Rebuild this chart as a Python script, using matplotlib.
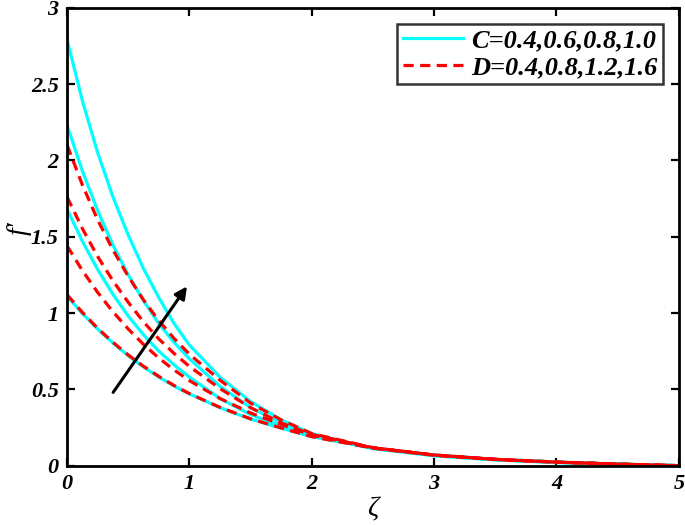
import numpy as np
import matplotlib.pyplot as plt
from matplotlib.lines import Line2D

# zeta grid
zeta = [0, 0.125, 0.25, 0.375, 0.5, 0.625, 0.75, 0.875, 1.0, 1.25, 1.5, 1.75, 2.0,
        2.5, 3.0, 3.5, 4.0, 4.5, 5.0]

# C = 0.4, 0.6, 0.8, 1.0 (solid cyan)
c_04 = [1.11, 0.997, 0.895, 0.803, 0.72, 0.646, 0.58, 0.522, 0.47, 0.38, 0.305, 0.246, 0.19,
        0.115, 0.07, 0.042, 0.024, 0.011, 0.0]
c_06 = [1.68, 1.47, 1.285, 1.122, 0.98, 0.857, 0.75, 0.66, 0.58, 0.44, 0.335, 0.26, 0.195,
        0.115, 0.068, 0.04, 0.023, 0.01, 0.0]
c_08 = [2.23, 1.93, 1.67, 1.445, 1.25, 1.08, 0.93, 0.807, 0.70, 0.52, 0.38, 0.28, 0.20,
        0.113, 0.066, 0.039, 0.022, 0.01, 0.0]
c_10 = [2.79, 2.39, 2.05, 1.76, 1.51, 1.29, 1.10, 0.93, 0.79, 0.58, 0.42, 0.30, 0.21,
        0.112, 0.065, 0.038, 0.02, 0.009, 0.0]

# D = 0.4, 0.8, 1.2, 1.6 (dashed red)
d_04 = [1.12, 1.004, 0.90, 0.808, 0.725, 0.651, 0.585, 0.525, 0.472, 0.382, 0.307, 0.247, 0.19,
        0.115, 0.07, 0.042, 0.024, 0.011, 0.0]
d_08 = [1.44, 1.278, 1.135, 1.008, 0.895, 0.794, 0.705, 0.627, 0.557, 0.44, 0.345, 0.27, 0.20,
        0.116, 0.069, 0.041, 0.023, 0.01, 0.0]
d_12 = [1.76, 1.553, 1.37, 1.211, 1.07, 0.942, 0.83, 0.735, 0.65, 0.505, 0.38, 0.28, 0.205,
        0.117, 0.069, 0.041, 0.023, 0.01, 0.0]
d_16 = [2.10, 1.839, 1.61, 1.413, 1.24, 1.085, 0.95, 0.833, 0.73, 0.56, 0.41, 0.30, 0.21,
        0.118, 0.07, 0.041, 0.023, 0.01, 0.0]

c_curves = [c_04, c_06, c_08, c_10]
d_curves = [d_04, d_08, d_12, d_16]

xticks = [0, 1, 2, 3, 4, 5]
yticks = [0, 0.5, 1, 1.5, 2, 2.5, 3]
ytick_labels = ['0', '0.5', '1', '1.5', '2', '2.5', '3']

plt.rcParams['font.family'] = ['Liberation Serif', 'DejaVu Serif']
plt.rcParams['font.weight'] = 'bold'
plt.rcParams['font.style'] = 'italic'

fig = plt.figure(figsize=(6.85, 5.25), dpi=100)
ax = fig.add_axes([0.098, 0.113, 0.893, 0.872])

for y in c_curves:
    ax.plot(zeta, y, color='#00ffff', lw=2.3)
for y in d_curves:
    ax.plot(zeta, y, color='#ff0000', lw=2.3, linestyle='--', dashes=(3.2, 2.0))

# arrow showing increasing parameter
ax.annotate('', xy=(0.98, 1.175), xytext=(0.376, 0.48),
            arrowprops=dict(arrowstyle='-|>', color='black', lw=2.2,
                            mutation_scale=18, shrinkA=0, shrinkB=0))

ax.set_xlim(0, 5)
ax.set_ylim(0, 3)
ax.set_xticks(xticks)
ax.set_yticks(yticks)
ax.set_yticklabels(ytick_labels)
ax.tick_params(direction='in', length=6, width=1.6, labelsize=16,
               top=True, right=True, pad=6)
for s in ax.spines.values():
    s.set_linewidth(2.0)

ax.set_xlabel('ζ', fontsize=20, labelpad=2)
ax.set_ylabel('f′', fontsize=20)
ax.yaxis.set_label_coords(-0.058, 0.52)

handles = [Line2D([], [], color='#00ffff', lw=2.3),
           Line2D([], [], color='#ff0000', lw=2.3, linestyle='--', dashes=(3.2, 2.0))]
leg = ax.legend(handles, ['C=0.4,0.6,0.8,1.0', 'D=0.4,0.8,1.2,1.6'],
                loc='upper right', fontsize=19, frameon=True, fancybox=False,
                handlelength=2.3, handletextpad=0.3, borderpad=0.2,
                labelspacing=0.12, borderaxespad=0.6)
leg.get_frame().set_edgecolor('black')
leg.get_frame().set_linewidth(1.8)

fig.savefig('out.png', dpi=100)
